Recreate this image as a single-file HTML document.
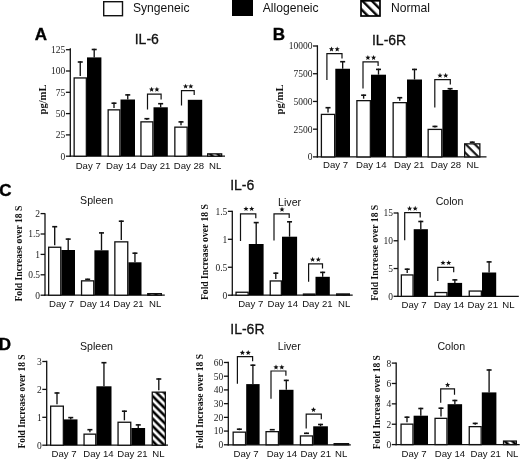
<!DOCTYPE html><html><head><meta charset="utf-8"><style>html,body{margin:0;padding:0;background:#fff;}svg{display:block;filter:grayscale(1) blur(0.35px);}</style></head><body>
<svg width="520" height="459" viewBox="0 0 520 459">
<defs><pattern id="hatch" patternUnits="userSpaceOnUse" width="5.3" height="5.3" patternTransform="rotate(-45)"><rect width="5.3" height="5.3" fill="#fff"/><rect x="1.4" y="0" width="2.6" height="5.3" fill="#000"/></pattern><pattern id="hatchL" patternUnits="userSpaceOnUse" width="6.72" height="6.72" patternTransform="rotate(-45)"><rect width="6.72" height="6.72" fill="#fff"/><rect x="0" y="0" width="1.45" height="6.72" fill="#000"/><rect x="5.83" y="0" width="0.89" height="6.72" fill="#000"/></pattern><pattern id="hatchB" patternUnits="userSpaceOnUse" width="6.4" height="6.4" patternTransform="rotate(-45)"><rect width="6.4" height="6.4" fill="#fff"/><rect x="2.35" y="0" width="2.0" height="6.4" fill="#000"/></pattern></defs>
<rect width="520" height="459" fill="#fff"/>
<rect x="103.7" y="1.7" width="18.8" height="14" fill="#fff" stroke="#111" stroke-width="1.4"/>
<text x="133" y="12.1" font-family='"Liberation Sans", sans-serif' font-size="12.1" font-weight="normal" text-anchor="start" fill="#111" >Syngeneic</text>
<rect x="232" y="0" width="21" height="16" fill="#000"/>
<text x="262.8" y="12.1" font-family='"Liberation Sans", sans-serif' font-size="12.1" font-weight="normal" text-anchor="start" fill="#111" >Allogeneic</text>
<rect x="361" y="0.8" width="19" height="15.2" fill="url(#hatchL)" stroke="#000" stroke-width="1.7"/>
<text x="391" y="12.1" font-family='"Liberation Sans", sans-serif' font-size="12.1" font-weight="normal" text-anchor="start" fill="#111" >Normal</text>
<text x="34.8" y="39.9" font-family='"Liberation Sans", sans-serif' font-size="17" font-weight="bold" text-anchor="start" fill="#000" stroke="#000" stroke-width="0.35">A</text>
<text x="272.8" y="39.8" font-family='"Liberation Sans", sans-serif' font-size="17" font-weight="bold" text-anchor="start" fill="#000" stroke="#000" stroke-width="0.35">B</text>
<text x="-0.8" y="196" font-family='"Liberation Sans", sans-serif' font-size="17" font-weight="bold" text-anchor="start" fill="#000" stroke="#000" stroke-width="0.35">C</text>
<text x="-1.3" y="350.3" font-family='"Liberation Sans", sans-serif' font-size="17" font-weight="bold" text-anchor="start" fill="#000" stroke="#000" stroke-width="0.35">D</text>
<text x="146.8" y="44.4" font-family='"Liberation Sans", sans-serif' font-size="14" font-weight="normal" text-anchor="middle" fill="#111" stroke="#111" stroke-width="0.3">IL-6</text>
<text x="389.1" y="44.9" font-family='"Liberation Sans", sans-serif' font-size="14" font-weight="normal" text-anchor="middle" fill="#111" stroke="#111" stroke-width="0.3">IL-6R</text>
<text x="242.2" y="190" font-family='"Liberation Sans", sans-serif' font-size="14" font-weight="normal" text-anchor="middle" fill="#111" stroke="#111" stroke-width="0.3">IL-6</text>
<text x="247.4" y="334.2" font-family='"Liberation Sans", sans-serif' font-size="14" font-weight="normal" text-anchor="middle" fill="#111" stroke="#111" stroke-width="0.3">IL-6R</text>
<text x="96.6" y="204.4" font-family='"Liberation Sans", sans-serif' font-size="10.6" font-weight="normal" text-anchor="middle" fill="#111" >Spleen</text>
<text x="289.6" y="205.7" font-family='"Liberation Sans", sans-serif' font-size="10.6" font-weight="normal" text-anchor="middle" fill="#111" >Liver</text>
<text x="449.5" y="205.2" font-family='"Liberation Sans", sans-serif' font-size="10.6" font-weight="normal" text-anchor="middle" fill="#111" >Colon</text>
<text x="96.5" y="350.4" font-family='"Liberation Sans", sans-serif' font-size="10.6" font-weight="normal" text-anchor="middle" fill="#111" >Spleen</text>
<text x="289.3" y="350.2" font-family='"Liberation Sans", sans-serif' font-size="10.6" font-weight="normal" text-anchor="middle" fill="#111" >Liver</text>
<text x="451.3" y="350.2" font-family='"Liberation Sans", sans-serif' font-size="10.6" font-weight="normal" text-anchor="middle" fill="#111" >Colon</text>
<line x1="70.3" y1="48.3" x2="70.3" y2="156.85" stroke="#111" stroke-width="1.3"/>
<line x1="69.65" y1="156.2" x2="225" y2="156.2" stroke="#111" stroke-width="1.3"/>
<line x1="65.9" y1="156.2" x2="70.3" y2="156.2" stroke="#111" stroke-width="1.3"/>
<text x="65.3" y="159.6" font-family='"Liberation Serif", serif' font-size="9.5" text-anchor="end" fill="#222">0</text>
<line x1="65.9" y1="134.9" x2="70.3" y2="134.9" stroke="#111" stroke-width="1.3"/>
<text x="65.3" y="138.3" font-family='"Liberation Serif", serif' font-size="9.5" text-anchor="end" fill="#222">25</text>
<line x1="65.9" y1="113.6" x2="70.3" y2="113.6" stroke="#111" stroke-width="1.3"/>
<text x="65.3" y="117" font-family='"Liberation Serif", serif' font-size="9.5" text-anchor="end" fill="#222">50</text>
<line x1="65.9" y1="92.3" x2="70.3" y2="92.3" stroke="#111" stroke-width="1.3"/>
<text x="65.3" y="95.7" font-family='"Liberation Serif", serif' font-size="9.5" text-anchor="end" fill="#222">75</text>
<line x1="65.9" y1="71" x2="70.3" y2="71" stroke="#111" stroke-width="1.3"/>
<text x="65.3" y="74.4" font-family='"Liberation Serif", serif' font-size="9.5" text-anchor="end" fill="#222">100</text>
<line x1="65.9" y1="49.7" x2="70.3" y2="49.7" stroke="#111" stroke-width="1.3"/>
<text x="65.3" y="53.1" font-family='"Liberation Serif", serif' font-size="9.5" text-anchor="end" fill="#222">125</text>
<rect x="74.15" y="77.95" width="12.2" height="78.25" fill="#fff" stroke="#111" stroke-width="1.3"/>
<line x1="80.25" y1="61.3" x2="80.25" y2="76" stroke="#111" stroke-width="1.35"/>
<line x1="77.75" y1="62" x2="82.75" y2="62" stroke="#111" stroke-width="1.6"/>
<rect x="87" y="57.4" width="14.4" height="98.8" fill="#000"/>
<line x1="94.2" y1="48.8" x2="94.2" y2="57.4" stroke="#111" stroke-width="1.35"/>
<line x1="91.7" y1="49.5" x2="96.7" y2="49.5" stroke="#111" stroke-width="1.6"/>
<rect x="108.15" y="109.85" width="11.7" height="46.35" fill="#fff" stroke="#111" stroke-width="1.3"/>
<line x1="114" y1="102.5" x2="114" y2="107.9" stroke="#111" stroke-width="1.35"/>
<line x1="111.5" y1="103.2" x2="116.5" y2="103.2" stroke="#111" stroke-width="1.6"/>
<rect x="120.5" y="99.5" width="14.5" height="56.7" fill="#000"/>
<line x1="127.75" y1="94.2" x2="127.75" y2="99.5" stroke="#111" stroke-width="1.35"/>
<line x1="125.25" y1="94.9" x2="130.25" y2="94.9" stroke="#111" stroke-width="1.6"/>
<rect x="140.95" y="121.85" width="11.9" height="34.35" fill="#fff" stroke="#111" stroke-width="1.3"/>
<line x1="146.9" y1="118" x2="146.9" y2="119.9" stroke="#111" stroke-width="1.35"/>
<line x1="144.4" y1="118.7" x2="149.4" y2="118.7" stroke="#111" stroke-width="1.6"/>
<rect x="153.5" y="107.3" width="14.3" height="48.9" fill="#000"/>
<line x1="160.65" y1="103" x2="160.65" y2="107.3" stroke="#111" stroke-width="1.35"/>
<line x1="158.15" y1="103.7" x2="163.15" y2="103.7" stroke="#111" stroke-width="1.6"/>
<rect x="174.85" y="127.15" width="12.3" height="29.05" fill="#fff" stroke="#111" stroke-width="1.3"/>
<line x1="181" y1="121.2" x2="181" y2="125.2" stroke="#111" stroke-width="1.35"/>
<line x1="178.5" y1="121.9" x2="183.5" y2="121.9" stroke="#111" stroke-width="1.6"/>
<rect x="187.8" y="99.8" width="14.4" height="56.4" fill="#000"/>
<rect x="207.65" y="153.85" width="14" height="2.35" fill="url(#hatch)" stroke="#111" stroke-width="1.3"/>
<polyline points="147.5,109.4 147.5,94.1 161.1,94.1 161.1,99.6" fill="none" stroke="#111" stroke-width="1.2"/>
<polygon points="151.6,86.75 152.31,88.53 154.22,88.65 152.74,89.87 153.22,91.72 151.6,90.7 149.98,91.72 150.46,89.87 148.98,88.65 150.89,88.53" fill="#111"/>
<polygon points="156.9,86.75 157.61,88.53 159.52,88.65 158.04,89.87 158.52,91.72 156.9,90.7 155.28,91.72 155.76,89.87 154.28,88.65 156.19,88.53" fill="#111"/>
<polyline points="181.5,105.6 181.5,90.6 194.2,90.6 194.2,95" fill="none" stroke="#111" stroke-width="1.2"/>
<polygon points="185.6,83.65 186.31,85.43 188.22,85.55 186.74,86.77 187.22,88.62 185.6,87.6 183.98,88.62 184.46,86.77 182.98,85.55 184.89,85.43" fill="#111"/>
<polygon points="190.8,83.65 191.51,85.43 193.42,85.55 191.94,86.77 192.42,88.62 190.8,87.6 189.18,88.62 189.66,86.77 188.18,85.55 190.09,85.43" fill="#111"/>
<text x="88.2" y="168.6" font-family='"Liberation Sans", sans-serif' font-size="9.6" font-weight="normal" text-anchor="middle" fill="#111" >Day 7</text>
<text x="121.2" y="168.6" font-family='"Liberation Sans", sans-serif' font-size="9.6" font-weight="normal" text-anchor="middle" fill="#111" >Day 14</text>
<text x="155.2" y="168.6" font-family='"Liberation Sans", sans-serif' font-size="9.6" font-weight="normal" text-anchor="middle" fill="#111" >Day 21</text>
<text x="189" y="168.6" font-family='"Liberation Sans", sans-serif' font-size="9.6" font-weight="normal" text-anchor="middle" fill="#111" >Day 28</text>
<text x="215.1" y="168.6" font-family='"Liberation Sans", sans-serif' font-size="9.6" font-weight="normal" text-anchor="middle" fill="#111" >NL</text>
<text x="0" y="0" font-family='"Liberation Serif", serif' font-size="10.6" font-weight="bold" text-anchor="middle" fill="#111" transform="translate(46,99.5) rotate(-90)">pg/mL</text>
<line x1="317.4" y1="45.3" x2="317.4" y2="157.55" stroke="#111" stroke-width="1.3"/>
<line x1="316.75" y1="156.9" x2="486.5" y2="156.9" stroke="#111" stroke-width="1.3"/>
<line x1="313" y1="156.9" x2="317.4" y2="156.9" stroke="#111" stroke-width="1.3"/>
<text x="312.4" y="160.3" font-family='"Liberation Serif", serif' font-size="9.5" text-anchor="end" fill="#222">0</text>
<line x1="313" y1="129.18" x2="317.4" y2="129.18" stroke="#111" stroke-width="1.3"/>
<text x="312.4" y="132.58" font-family='"Liberation Serif", serif' font-size="9.5" text-anchor="end" fill="#222">2500</text>
<line x1="313" y1="101.45" x2="317.4" y2="101.45" stroke="#111" stroke-width="1.3"/>
<text x="312.4" y="104.85" font-family='"Liberation Serif", serif' font-size="9.5" text-anchor="end" fill="#222">5000</text>
<line x1="313" y1="73.73" x2="317.4" y2="73.73" stroke="#111" stroke-width="1.3"/>
<text x="312.4" y="77.13" font-family='"Liberation Serif", serif' font-size="9.5" text-anchor="end" fill="#222">7500</text>
<line x1="313" y1="46" x2="317.4" y2="46" stroke="#111" stroke-width="1.3"/>
<text x="312.4" y="49.4" font-family='"Liberation Serif", serif' font-size="9.5" text-anchor="end" fill="#222">10000</text>
<rect x="321.4" y="114.4" width="13.25" height="42.5" fill="#fff" stroke="#111" stroke-width="1.3"/>
<line x1="328.02" y1="107" x2="328.02" y2="112.45" stroke="#111" stroke-width="1.35"/>
<line x1="325.52" y1="107.7" x2="330.52" y2="107.7" stroke="#111" stroke-width="1.6"/>
<rect x="335.3" y="68.75" width="14.7" height="88.15" fill="#000"/>
<line x1="342.65" y1="61" x2="342.65" y2="68.75" stroke="#111" stroke-width="1.35"/>
<line x1="340.15" y1="61.7" x2="345.15" y2="61.7" stroke="#111" stroke-width="1.6"/>
<rect x="356.9" y="100.65" width="13.45" height="56.25" fill="#fff" stroke="#111" stroke-width="1.3"/>
<line x1="363.62" y1="94.5" x2="363.62" y2="98.7" stroke="#111" stroke-width="1.35"/>
<line x1="361.12" y1="95.2" x2="366.12" y2="95.2" stroke="#111" stroke-width="1.6"/>
<rect x="371" y="74.7" width="15" height="82.2" fill="#000"/>
<line x1="378.5" y1="68.7" x2="378.5" y2="74.7" stroke="#111" stroke-width="1.35"/>
<line x1="376" y1="69.4" x2="381" y2="69.4" stroke="#111" stroke-width="1.6"/>
<rect x="393.15" y="102.65" width="13.2" height="54.25" fill="#fff" stroke="#111" stroke-width="1.3"/>
<line x1="399.75" y1="97" x2="399.75" y2="100.7" stroke="#111" stroke-width="1.35"/>
<line x1="397.25" y1="97.7" x2="402.25" y2="97.7" stroke="#111" stroke-width="1.6"/>
<rect x="407" y="79.5" width="15" height="77.4" fill="#000"/>
<line x1="414.5" y1="68.75" x2="414.5" y2="79.5" stroke="#111" stroke-width="1.35"/>
<line x1="412" y1="69.45" x2="417" y2="69.45" stroke="#111" stroke-width="1.6"/>
<rect x="428.15" y="129.4" width="13.6" height="27.5" fill="#fff" stroke="#111" stroke-width="1.3"/>
<line x1="434.95" y1="125.75" x2="434.95" y2="127.45" stroke="#111" stroke-width="1.35"/>
<line x1="432.45" y1="126.45" x2="437.45" y2="126.45" stroke="#111" stroke-width="1.6"/>
<rect x="442.4" y="90" width="15.4" height="66.9" fill="#000"/>
<line x1="450.1" y1="88" x2="450.1" y2="90" stroke="#111" stroke-width="1.35"/>
<line x1="447.6" y1="88.7" x2="452.6" y2="88.7" stroke="#111" stroke-width="1.6"/>
<rect x="464.65" y="143.85" width="15.2" height="13.05" fill="url(#hatchB)" stroke="#111" stroke-width="1.3"/>
<line x1="472.25" y1="141.5" x2="472.25" y2="141.9" stroke="#111" stroke-width="1.35"/>
<line x1="469.75" y1="142.2" x2="474.75" y2="142.2" stroke="#111" stroke-width="1.6"/>
<polyline points="326.9,80 326.9,53.7 342,53.7 342,58.5" fill="none" stroke="#111" stroke-width="1.2"/>
<polygon points="331.5,46.45 332.21,48.23 334.12,48.35 332.64,49.57 333.12,51.42 331.5,50.4 329.88,51.42 330.36,49.57 328.88,48.35 330.79,48.23" fill="#111"/>
<polygon points="337.2,46.45 337.91,48.23 339.82,48.35 338.34,49.57 338.82,51.42 337.2,50.4 335.58,51.42 336.06,49.57 334.58,48.35 336.49,48.23" fill="#111"/>
<polyline points="363,88.5 363,61.8 378.1,61.8 378.1,66.1" fill="none" stroke="#111" stroke-width="1.2"/>
<polygon points="367.9,54.95 368.61,56.73 370.52,56.85 369.04,58.07 369.52,59.92 367.9,58.9 366.28,59.92 366.76,58.07 365.28,56.85 367.19,56.73" fill="#111"/>
<polygon points="373.6,54.95 374.31,56.73 376.22,56.85 374.74,58.07 375.22,59.92 373.6,58.9 371.98,59.92 372.46,58.07 370.98,56.85 372.89,56.73" fill="#111"/>
<polyline points="434.8,107.5 434.8,79.7 450.3,79.7 450.3,84.4" fill="none" stroke="#111" stroke-width="1.2"/>
<polygon points="440,72.85 440.71,74.63 442.62,74.75 441.14,75.97 441.62,77.82 440,76.8 438.38,77.82 438.86,75.97 437.38,74.75 439.29,74.63" fill="#111"/>
<polygon points="445.7,72.85 446.41,74.63 448.32,74.75 446.84,75.97 447.32,77.82 445.7,76.8 444.08,77.82 444.56,75.97 443.08,74.75 444.99,74.63" fill="#111"/>
<text x="335.5" y="168.3" font-family='"Liberation Sans", sans-serif' font-size="9.6" font-weight="normal" text-anchor="middle" fill="#111" >Day 7</text>
<text x="371.3" y="168.3" font-family='"Liberation Sans", sans-serif' font-size="9.6" font-weight="normal" text-anchor="middle" fill="#111" >Day 14</text>
<text x="409.2" y="168.3" font-family='"Liberation Sans", sans-serif' font-size="9.6" font-weight="normal" text-anchor="middle" fill="#111" >Day 21</text>
<text x="446" y="168.3" font-family='"Liberation Sans", sans-serif' font-size="9.6" font-weight="normal" text-anchor="middle" fill="#111" >Day 28</text>
<text x="472.7" y="168.3" font-family='"Liberation Sans", sans-serif' font-size="9.6" font-weight="normal" text-anchor="middle" fill="#111" >NL</text>
<text x="0" y="0" font-family='"Liberation Serif", serif' font-size="10.6" font-weight="bold" text-anchor="middle" fill="#111" transform="translate(282.5,99.5) rotate(-90)">pg/mL</text>
<line x1="45" y1="213.3" x2="45" y2="295.85" stroke="#111" stroke-width="1.3"/>
<line x1="44.35" y1="295.2" x2="164.8" y2="295.2" stroke="#111" stroke-width="1.3"/>
<line x1="40.6" y1="295.2" x2="45" y2="295.2" stroke="#111" stroke-width="1.3"/>
<text x="40" y="298.6" font-family='"Liberation Serif", serif' font-size="9.5" text-anchor="end" fill="#222">0</text>
<line x1="40.6" y1="274.8" x2="45" y2="274.8" stroke="#111" stroke-width="1.3"/>
<text x="40" y="278.2" font-family='"Liberation Serif", serif' font-size="9.5" text-anchor="end" fill="#222">0.5</text>
<line x1="40.6" y1="254.4" x2="45" y2="254.4" stroke="#111" stroke-width="1.3"/>
<text x="40" y="257.8" font-family='"Liberation Serif", serif' font-size="9.5" text-anchor="end" fill="#222">1</text>
<line x1="40.6" y1="234" x2="45" y2="234" stroke="#111" stroke-width="1.3"/>
<text x="40" y="237.4" font-family='"Liberation Serif", serif' font-size="9.5" text-anchor="end" fill="#222">1.5</text>
<line x1="40.6" y1="213.6" x2="45" y2="213.6" stroke="#111" stroke-width="1.3"/>
<text x="40" y="217" font-family='"Liberation Serif", serif' font-size="9.5" text-anchor="end" fill="#222">2</text>
<rect x="48.65" y="247.25" width="12.1" height="47.95" fill="#fff" stroke="#111" stroke-width="1.3"/>
<line x1="54.7" y1="226" x2="54.7" y2="245.3" stroke="#111" stroke-width="1.35"/>
<line x1="52.2" y1="226.7" x2="57.2" y2="226.7" stroke="#111" stroke-width="1.6"/>
<rect x="61.4" y="250" width="13.6" height="45.2" fill="#000"/>
<line x1="68.2" y1="238.4" x2="68.2" y2="250" stroke="#111" stroke-width="1.35"/>
<line x1="65.7" y1="239.1" x2="70.7" y2="239.1" stroke="#111" stroke-width="1.6"/>
<rect x="81.55" y="280.85" width="12.2" height="14.35" fill="#fff" stroke="#111" stroke-width="1.3"/>
<line x1="87.65" y1="278.6" x2="87.65" y2="278.9" stroke="#111" stroke-width="1.35"/>
<line x1="85.15" y1="279.3" x2="90.15" y2="279.3" stroke="#111" stroke-width="1.6"/>
<rect x="94.4" y="250.3" width="14.2" height="44.9" fill="#000"/>
<line x1="101.5" y1="232.2" x2="101.5" y2="250.3" stroke="#111" stroke-width="1.35"/>
<line x1="99" y1="232.9" x2="104" y2="232.9" stroke="#111" stroke-width="1.6"/>
<rect x="114.85" y="241.85" width="12.9" height="53.35" fill="#fff" stroke="#111" stroke-width="1.3"/>
<line x1="121.3" y1="220.5" x2="121.3" y2="239.9" stroke="#111" stroke-width="1.35"/>
<line x1="118.8" y1="221.2" x2="123.8" y2="221.2" stroke="#111" stroke-width="1.6"/>
<rect x="128.4" y="262.3" width="13.1" height="32.9" fill="#000"/>
<line x1="134.95" y1="252.5" x2="134.95" y2="262.3" stroke="#111" stroke-width="1.35"/>
<line x1="132.45" y1="253.2" x2="137.45" y2="253.2" stroke="#111" stroke-width="1.6"/>
<rect x="147.75" y="293.65" width="13.6" height="1.55" fill="url(#hatch)" stroke="#111" stroke-width="1.3"/>
<text x="61.6" y="307.3" font-family='"Liberation Sans", sans-serif' font-size="9.6" font-weight="normal" text-anchor="middle" fill="#111" >Day 7</text>
<text x="95" y="307.3" font-family='"Liberation Sans", sans-serif' font-size="9.6" font-weight="normal" text-anchor="middle" fill="#111" >Day 14</text>
<text x="128.5" y="307.3" font-family='"Liberation Sans", sans-serif' font-size="9.6" font-weight="normal" text-anchor="middle" fill="#111" >Day 21</text>
<text x="155.2" y="307.3" font-family='"Liberation Sans", sans-serif' font-size="9.6" font-weight="normal" text-anchor="middle" fill="#111" >NL</text>
<text x="0" y="0" font-family='"Liberation Serif", serif' font-size="9.65" font-weight="bold" text-anchor="middle" fill="#111" transform="translate(22.4,253.6) rotate(-90)">Fold Increase over 18 S</text>
<line x1="232.3" y1="210.8" x2="232.3" y2="295.85" stroke="#111" stroke-width="1.3"/>
<line x1="231.65" y1="295.2" x2="352.7" y2="295.2" stroke="#111" stroke-width="1.3"/>
<line x1="227.9" y1="295.2" x2="232.3" y2="295.2" stroke="#111" stroke-width="1.3"/>
<text x="227.3" y="298.6" font-family='"Liberation Serif", serif' font-size="9.5" text-anchor="end" fill="#222">0</text>
<line x1="227.9" y1="267.25" x2="232.3" y2="267.25" stroke="#111" stroke-width="1.3"/>
<text x="227.3" y="270.65" font-family='"Liberation Serif", serif' font-size="9.5" text-anchor="end" fill="#222">0.5</text>
<line x1="227.9" y1="239.3" x2="232.3" y2="239.3" stroke="#111" stroke-width="1.3"/>
<text x="227.3" y="242.7" font-family='"Liberation Serif", serif' font-size="9.5" text-anchor="end" fill="#222">1</text>
<line x1="227.9" y1="211.35" x2="232.3" y2="211.35" stroke="#111" stroke-width="1.3"/>
<text x="227.3" y="214.75" font-family='"Liberation Serif", serif' font-size="9.5" text-anchor="end" fill="#222">1.5</text>
<rect x="236.05" y="292.25" width="12.1" height="2.95" fill="#fff" stroke="#111" stroke-width="1.3"/>
<rect x="248.8" y="244" width="14.8" height="51.2" fill="#000"/>
<line x1="256.2" y1="221.9" x2="256.2" y2="244" stroke="#111" stroke-width="1.35"/>
<line x1="253.7" y1="222.6" x2="258.7" y2="222.6" stroke="#111" stroke-width="1.6"/>
<rect x="270.25" y="280.95" width="11.1" height="14.25" fill="#fff" stroke="#111" stroke-width="1.3"/>
<line x1="275.8" y1="272.5" x2="275.8" y2="279" stroke="#111" stroke-width="1.35"/>
<line x1="273.3" y1="273.2" x2="278.3" y2="273.2" stroke="#111" stroke-width="1.6"/>
<rect x="282" y="236.7" width="15.1" height="58.5" fill="#000"/>
<line x1="289.55" y1="221.1" x2="289.55" y2="236.7" stroke="#111" stroke-width="1.35"/>
<line x1="287.05" y1="221.8" x2="292.05" y2="221.8" stroke="#111" stroke-width="1.6"/>
<rect x="303.45" y="294.05" width="11.4" height="1.15" fill="#fff" stroke="#111" stroke-width="1.3"/>
<rect x="315.5" y="276.8" width="14.3" height="18.4" fill="#000"/>
<line x1="322.65" y1="271.7" x2="322.65" y2="276.8" stroke="#111" stroke-width="1.35"/>
<line x1="320.15" y1="272.4" x2="325.15" y2="272.4" stroke="#111" stroke-width="1.6"/>
<rect x="336.65" y="293.95" width="12.7" height="1.25" fill="url(#hatch)" stroke="#111" stroke-width="1.3"/>
<polyline points="240.5,241 240.5,213.8 255.8,213.8 255.8,218.2" fill="none" stroke="#111" stroke-width="1.2"/>
<polygon points="246,206.15 246.71,207.93 248.62,208.05 247.14,209.27 247.62,211.12 246,210.1 244.38,211.12 244.86,209.27 243.38,208.05 245.29,207.93" fill="#111"/>
<polygon points="251.7,206.15 252.41,207.93 254.32,208.05 252.84,209.27 253.32,211.12 251.7,210.1 250.08,211.12 250.56,209.27 249.08,208.05 250.99,207.93" fill="#111"/>
<polyline points="274,240.6 274,213.8 289.2,213.8 289.2,217.9" fill="none" stroke="#111" stroke-width="1.2"/>
<polygon points="282,206.75 282.71,208.53 284.62,208.65 283.14,209.87 283.62,211.72 282,210.7 280.38,211.72 280.86,209.87 279.38,208.65 281.29,208.53" fill="#111"/>
<polyline points="308.6,281.7 308.6,263.8 322.5,263.8 322.5,268.5" fill="none" stroke="#111" stroke-width="1.2"/>
<polygon points="312.6,256.85 313.31,258.63 315.22,258.75 313.74,259.97 314.22,261.82 312.6,260.8 310.98,261.82 311.46,259.97 309.98,258.75 311.89,258.63" fill="#111"/>
<polygon points="318.3,256.85 319.01,258.63 320.92,258.75 319.44,259.97 319.92,261.82 318.3,260.8 316.68,261.82 317.16,259.97 315.68,258.75 317.59,258.63" fill="#111"/>
<text x="250.7" y="307.3" font-family='"Liberation Sans", sans-serif' font-size="9.6" font-weight="normal" text-anchor="middle" fill="#111" >Day 7</text>
<text x="282.8" y="307.3" font-family='"Liberation Sans", sans-serif' font-size="9.6" font-weight="normal" text-anchor="middle" fill="#111" >Day 14</text>
<text x="317.4" y="307.3" font-family='"Liberation Sans", sans-serif' font-size="9.6" font-weight="normal" text-anchor="middle" fill="#111" >Day 21</text>
<text x="344.2" y="307.3" font-family='"Liberation Sans", sans-serif' font-size="9.6" font-weight="normal" text-anchor="middle" fill="#111" >NL</text>
<text x="0" y="0" font-family='"Liberation Serif", serif' font-size="9.65" font-weight="bold" text-anchor="middle" fill="#111" transform="translate(207.7,252.1) rotate(-90)">Fold Increase over 18 S</text>
<line x1="398" y1="212.5" x2="398" y2="296.95" stroke="#111" stroke-width="1.3"/>
<line x1="397.35" y1="296.3" x2="518.8" y2="296.3" stroke="#111" stroke-width="1.3"/>
<line x1="393.6" y1="296.3" x2="398" y2="296.3" stroke="#111" stroke-width="1.3"/>
<text x="393" y="299.7" font-family='"Liberation Serif", serif' font-size="9.5" text-anchor="end" fill="#222">0</text>
<line x1="393.6" y1="268.53" x2="398" y2="268.53" stroke="#111" stroke-width="1.3"/>
<text x="393" y="271.93" font-family='"Liberation Serif", serif' font-size="9.5" text-anchor="end" fill="#222">5</text>
<line x1="393.6" y1="240.77" x2="398" y2="240.77" stroke="#111" stroke-width="1.3"/>
<text x="393" y="244.17" font-family='"Liberation Serif", serif' font-size="9.5" text-anchor="end" fill="#222">10</text>
<line x1="393.6" y1="213" x2="398" y2="213" stroke="#111" stroke-width="1.3"/>
<text x="393" y="216.4" font-family='"Liberation Serif", serif' font-size="9.5" text-anchor="end" fill="#222">15</text>
<rect x="401.35" y="274.95" width="11.7" height="21.35" fill="#fff" stroke="#111" stroke-width="1.3"/>
<line x1="407.2" y1="268.5" x2="407.2" y2="273" stroke="#111" stroke-width="1.35"/>
<line x1="404.7" y1="269.2" x2="409.7" y2="269.2" stroke="#111" stroke-width="1.6"/>
<rect x="413.7" y="229.2" width="14.2" height="67.1" fill="#000"/>
<line x1="420.8" y1="220.8" x2="420.8" y2="229.2" stroke="#111" stroke-width="1.35"/>
<line x1="418.3" y1="221.5" x2="423.3" y2="221.5" stroke="#111" stroke-width="1.6"/>
<rect x="435.05" y="292.55" width="11.9" height="3.75" fill="#fff" stroke="#111" stroke-width="1.3"/>
<rect x="447.6" y="282.9" width="14.5" height="13.4" fill="#000"/>
<line x1="454.85" y1="279.2" x2="454.85" y2="282.9" stroke="#111" stroke-width="1.35"/>
<line x1="452.35" y1="279.9" x2="457.35" y2="279.9" stroke="#111" stroke-width="1.6"/>
<rect x="469.25" y="291.05" width="12.1" height="5.25" fill="#fff" stroke="#111" stroke-width="1.3"/>
<rect x="482" y="272.5" width="14.2" height="23.8" fill="#000"/>
<line x1="489.1" y1="261.2" x2="489.1" y2="272.5" stroke="#111" stroke-width="1.35"/>
<line x1="486.6" y1="261.9" x2="491.6" y2="261.9" stroke="#111" stroke-width="1.6"/>
<polyline points="404.7,240.2 404.7,212.7 420.2,212.7 420.2,217.6" fill="none" stroke="#111" stroke-width="1.2"/>
<polygon points="409.6,205.85 410.31,207.63 412.22,207.75 410.74,208.97 411.22,210.82 409.6,209.8 407.98,210.82 408.46,208.97 406.98,207.75 408.89,207.63" fill="#111"/>
<polygon points="415.2,205.85 415.91,207.63 417.82,207.75 416.34,208.97 416.82,210.82 415.2,209.8 413.58,210.82 414.06,208.97 412.58,207.75 414.49,207.63" fill="#111"/>
<polyline points="437.8,281 437.8,267.4 453.7,267.4 453.7,272.3" fill="none" stroke="#111" stroke-width="1.2"/>
<polygon points="443,260.15 443.71,261.93 445.62,262.05 444.14,263.27 444.62,265.12 443,264.1 441.38,265.12 441.86,263.27 440.38,262.05 442.29,261.93" fill="#111"/>
<polygon points="448.7,260.15 449.41,261.93 451.32,262.05 449.84,263.27 450.32,265.12 448.7,264.1 447.08,265.12 447.56,263.27 446.08,262.05 447.99,261.93" fill="#111"/>
<text x="414" y="307.8" font-family='"Liberation Sans", sans-serif' font-size="9.6" font-weight="normal" text-anchor="middle" fill="#111" >Day 7</text>
<text x="449" y="307.8" font-family='"Liberation Sans", sans-serif' font-size="9.6" font-weight="normal" text-anchor="middle" fill="#111" >Day 14</text>
<text x="482.8" y="307.8" font-family='"Liberation Sans", sans-serif' font-size="9.6" font-weight="normal" text-anchor="middle" fill="#111" >Day 21</text>
<text x="508.4" y="307.8" font-family='"Liberation Sans", sans-serif' font-size="9.6" font-weight="normal" text-anchor="middle" fill="#111" >NL</text>
<text x="0" y="0" font-family='"Liberation Serif", serif' font-size="9.65" font-weight="bold" text-anchor="middle" fill="#111" transform="translate(377.5,252.75) rotate(-90)">Fold Increase over 18 S</text>
<line x1="46.7" y1="360.8" x2="46.7" y2="445.85" stroke="#111" stroke-width="1.3"/>
<line x1="46.05" y1="445.2" x2="168" y2="445.2" stroke="#111" stroke-width="1.3"/>
<line x1="42.3" y1="445.2" x2="46.7" y2="445.2" stroke="#111" stroke-width="1.3"/>
<text x="41.7" y="448.6" font-family='"Liberation Serif", serif' font-size="9.5" text-anchor="end" fill="#222">0</text>
<line x1="42.3" y1="417.3" x2="46.7" y2="417.3" stroke="#111" stroke-width="1.3"/>
<text x="41.7" y="420.7" font-family='"Liberation Serif", serif' font-size="9.5" text-anchor="end" fill="#222">1</text>
<line x1="42.3" y1="389.4" x2="46.7" y2="389.4" stroke="#111" stroke-width="1.3"/>
<text x="41.7" y="392.8" font-family='"Liberation Serif", serif' font-size="9.5" text-anchor="end" fill="#222">2</text>
<line x1="42.3" y1="361.5" x2="46.7" y2="361.5" stroke="#111" stroke-width="1.3"/>
<text x="41.7" y="364.9" font-family='"Liberation Serif", serif' font-size="9.5" text-anchor="end" fill="#222">3</text>
<rect x="50.65" y="406.15" width="12.7" height="39.05" fill="#fff" stroke="#111" stroke-width="1.3"/>
<line x1="57" y1="392.3" x2="57" y2="404.2" stroke="#111" stroke-width="1.35"/>
<line x1="54.5" y1="393" x2="59.5" y2="393" stroke="#111" stroke-width="1.6"/>
<rect x="64" y="419.4" width="13.5" height="25.8" fill="#000"/>
<line x1="70.75" y1="416.9" x2="70.75" y2="419.4" stroke="#111" stroke-width="1.35"/>
<line x1="68.25" y1="417.6" x2="73.25" y2="417.6" stroke="#111" stroke-width="1.6"/>
<rect x="84.05" y="434.15" width="11.7" height="11.05" fill="#fff" stroke="#111" stroke-width="1.3"/>
<line x1="89.9" y1="429" x2="89.9" y2="432.2" stroke="#111" stroke-width="1.35"/>
<line x1="87.4" y1="429.7" x2="92.4" y2="429.7" stroke="#111" stroke-width="1.6"/>
<rect x="96.4" y="386.3" width="15.1" height="58.9" fill="#000"/>
<line x1="103.95" y1="362" x2="103.95" y2="386.3" stroke="#111" stroke-width="1.35"/>
<line x1="101.45" y1="362.7" x2="106.45" y2="362.7" stroke="#111" stroke-width="1.6"/>
<rect x="118.05" y="422.25" width="12.7" height="22.95" fill="#fff" stroke="#111" stroke-width="1.3"/>
<line x1="124.4" y1="410.5" x2="124.4" y2="420.3" stroke="#111" stroke-width="1.35"/>
<line x1="121.9" y1="411.2" x2="126.9" y2="411.2" stroke="#111" stroke-width="1.6"/>
<rect x="131.4" y="428" width="13.7" height="17.2" fill="#000"/>
<line x1="138.25" y1="424.2" x2="138.25" y2="428" stroke="#111" stroke-width="1.35"/>
<line x1="135.75" y1="424.9" x2="140.75" y2="424.9" stroke="#111" stroke-width="1.6"/>
<rect x="152.25" y="392.15" width="13.1" height="53.05" fill="url(#hatch)" stroke="#111" stroke-width="1.3"/>
<line x1="158.8" y1="378.3" x2="158.8" y2="390.2" stroke="#111" stroke-width="1.35"/>
<line x1="156.3" y1="379" x2="161.3" y2="379" stroke="#111" stroke-width="1.6"/>
<text x="64" y="457" font-family='"Liberation Sans", sans-serif' font-size="9.6" font-weight="normal" text-anchor="middle" fill="#111" >Day 7</text>
<text x="98.5" y="457" font-family='"Liberation Sans", sans-serif' font-size="9.6" font-weight="normal" text-anchor="middle" fill="#111" >Day 14</text>
<text x="132.5" y="457" font-family='"Liberation Sans", sans-serif' font-size="9.6" font-weight="normal" text-anchor="middle" fill="#111" >Day 21</text>
<text x="158.5" y="457" font-family='"Liberation Sans", sans-serif' font-size="9.6" font-weight="normal" text-anchor="middle" fill="#111" >NL</text>
<text x="0" y="0" font-family='"Liberation Serif", serif' font-size="9.45" font-weight="bold" text-anchor="middle" fill="#111" transform="translate(25,401.5) rotate(-90)">Fold Increase over 18 S</text>
<line x1="228.3" y1="361.8" x2="228.3" y2="445.45" stroke="#111" stroke-width="1.3"/>
<line x1="227.65" y1="444.8" x2="350.8" y2="444.8" stroke="#111" stroke-width="1.3"/>
<line x1="223.9" y1="444.8" x2="228.3" y2="444.8" stroke="#111" stroke-width="1.3"/>
<text x="223.3" y="448.2" font-family='"Liberation Serif", serif' font-size="9.5" text-anchor="end" fill="#222">0</text>
<line x1="223.9" y1="431.08" x2="228.3" y2="431.08" stroke="#111" stroke-width="1.3"/>
<text x="223.3" y="434.48" font-family='"Liberation Serif", serif' font-size="9.5" text-anchor="end" fill="#222">10</text>
<line x1="223.9" y1="417.36" x2="228.3" y2="417.36" stroke="#111" stroke-width="1.3"/>
<text x="223.3" y="420.76" font-family='"Liberation Serif", serif' font-size="9.5" text-anchor="end" fill="#222">20</text>
<line x1="223.9" y1="403.64" x2="228.3" y2="403.64" stroke="#111" stroke-width="1.3"/>
<text x="223.3" y="407.04" font-family='"Liberation Serif", serif' font-size="9.5" text-anchor="end" fill="#222">30</text>
<line x1="223.9" y1="389.92" x2="228.3" y2="389.92" stroke="#111" stroke-width="1.3"/>
<text x="223.3" y="393.32" font-family='"Liberation Serif", serif' font-size="9.5" text-anchor="end" fill="#222">40</text>
<line x1="223.9" y1="376.2" x2="228.3" y2="376.2" stroke="#111" stroke-width="1.3"/>
<text x="223.3" y="379.6" font-family='"Liberation Serif", serif' font-size="9.5" text-anchor="end" fill="#222">50</text>
<line x1="223.9" y1="362.48" x2="228.3" y2="362.48" stroke="#111" stroke-width="1.3"/>
<text x="223.3" y="365.88" font-family='"Liberation Serif", serif' font-size="9.5" text-anchor="end" fill="#222">60</text>
<rect x="233.15" y="432.15" width="12.4" height="12.65" fill="#fff" stroke="#111" stroke-width="1.3"/>
<line x1="239.35" y1="428.5" x2="239.35" y2="430.2" stroke="#111" stroke-width="1.35"/>
<line x1="236.85" y1="429.2" x2="241.85" y2="429.2" stroke="#111" stroke-width="1.6"/>
<rect x="246.2" y="384.1" width="13.4" height="60.7" fill="#000"/>
<line x1="252.9" y1="364.5" x2="252.9" y2="384.1" stroke="#111" stroke-width="1.35"/>
<line x1="250.4" y1="365.2" x2="255.4" y2="365.2" stroke="#111" stroke-width="1.6"/>
<rect x="266.05" y="431.65" width="12.4" height="13.15" fill="#fff" stroke="#111" stroke-width="1.3"/>
<line x1="272.25" y1="429" x2="272.25" y2="429.7" stroke="#111" stroke-width="1.35"/>
<line x1="269.75" y1="429.7" x2="274.75" y2="429.7" stroke="#111" stroke-width="1.6"/>
<rect x="279.1" y="389.8" width="14.4" height="55" fill="#000"/>
<line x1="286.3" y1="379.7" x2="286.3" y2="389.8" stroke="#111" stroke-width="1.35"/>
<line x1="283.8" y1="380.4" x2="288.8" y2="380.4" stroke="#111" stroke-width="1.6"/>
<rect x="300.45" y="435.95" width="12.1" height="8.85" fill="#fff" stroke="#111" stroke-width="1.3"/>
<line x1="306.5" y1="432.6" x2="306.5" y2="434" stroke="#111" stroke-width="1.35"/>
<line x1="304" y1="433.3" x2="309" y2="433.3" stroke="#111" stroke-width="1.6"/>
<rect x="313.2" y="426.3" width="14.7" height="18.5" fill="#000"/>
<line x1="320.55" y1="423.8" x2="320.55" y2="426.3" stroke="#111" stroke-width="1.35"/>
<line x1="318.05" y1="424.5" x2="323.05" y2="424.5" stroke="#111" stroke-width="1.6"/>
<rect x="334.15" y="443.65" width="14.4" height="1.15" fill="url(#hatch)" stroke="#111" stroke-width="1.3"/>
<polyline points="237.4,383.7 237.4,356.6 252.6,356.6 252.6,361.3" fill="none" stroke="#111" stroke-width="1.2"/>
<polygon points="242.4,350.05 243.11,351.83 245.02,351.95 243.54,353.17 244.02,355.02 242.4,354 240.78,355.02 241.26,353.17 239.78,351.95 241.69,351.83" fill="#111"/>
<polygon points="248.2,350.05 248.91,351.83 250.82,351.95 249.34,353.17 249.82,355.02 248.2,354 246.58,355.02 247.06,353.17 245.58,351.95 247.49,351.83" fill="#111"/>
<polyline points="271,398.8 271,371 285.9,371 285.9,375.7" fill="none" stroke="#111" stroke-width="1.2"/>
<polygon points="276,364.55 276.71,366.33 278.62,366.45 277.14,367.67 277.62,369.52 276,368.5 274.38,369.52 274.86,367.67 273.38,366.45 275.29,366.33" fill="#111"/>
<polygon points="281.8,364.55 282.51,366.33 284.42,366.45 282.94,367.67 283.42,369.52 281.8,368.5 280.18,369.52 280.66,367.67 279.18,366.45 281.09,366.33" fill="#111"/>
<polyline points="306.2,428.6 306.2,414.2 321.3,414.2 321.3,419.2" fill="none" stroke="#111" stroke-width="1.2"/>
<polygon points="313.5,407.05 314.21,408.83 316.12,408.95 314.64,410.17 315.12,412.02 313.5,411 311.88,412.02 312.36,410.17 310.88,408.95 312.79,408.83" fill="#111"/>
<text x="246" y="457" font-family='"Liberation Sans", sans-serif' font-size="9.6" font-weight="normal" text-anchor="middle" fill="#111" >Day 7</text>
<text x="281.9" y="457" font-family='"Liberation Sans", sans-serif' font-size="9.6" font-weight="normal" text-anchor="middle" fill="#111" >Day 14</text>
<text x="315.8" y="457" font-family='"Liberation Sans", sans-serif' font-size="9.6" font-weight="normal" text-anchor="middle" fill="#111" >Day 21</text>
<text x="341.2" y="457" font-family='"Liberation Sans", sans-serif' font-size="9.6" font-weight="normal" text-anchor="middle" fill="#111" >NL</text>
<text x="0" y="0" font-family='"Liberation Serif", serif' font-size="9.5" font-weight="bold" text-anchor="middle" fill="#111" transform="translate(203.3,401.3) rotate(-90)">Fold Increase over 18 S</text>
<line x1="396.2" y1="362.5" x2="396.2" y2="445.25" stroke="#111" stroke-width="1.3"/>
<line x1="395.55" y1="444.6" x2="519.7" y2="444.6" stroke="#111" stroke-width="1.3"/>
<line x1="391.8" y1="444.6" x2="396.2" y2="444.6" stroke="#111" stroke-width="1.3"/>
<text x="391.2" y="448" font-family='"Liberation Serif", serif' font-size="9.5" text-anchor="end" fill="#222">0</text>
<line x1="391.8" y1="424.23" x2="396.2" y2="424.23" stroke="#111" stroke-width="1.3"/>
<text x="391.2" y="427.62" font-family='"Liberation Serif", serif' font-size="9.5" text-anchor="end" fill="#222">2</text>
<line x1="391.8" y1="403.85" x2="396.2" y2="403.85" stroke="#111" stroke-width="1.3"/>
<text x="391.2" y="407.25" font-family='"Liberation Serif", serif' font-size="9.5" text-anchor="end" fill="#222">4</text>
<line x1="391.8" y1="383.48" x2="396.2" y2="383.48" stroke="#111" stroke-width="1.3"/>
<text x="391.2" y="386.88" font-family='"Liberation Serif", serif' font-size="9.5" text-anchor="end" fill="#222">6</text>
<line x1="391.8" y1="363.1" x2="396.2" y2="363.1" stroke="#111" stroke-width="1.3"/>
<text x="391.2" y="366.5" font-family='"Liberation Serif", serif' font-size="9.5" text-anchor="end" fill="#222">8</text>
<rect x="401.05" y="424.15" width="11.9" height="20.45" fill="#fff" stroke="#111" stroke-width="1.3"/>
<line x1="407" y1="416.5" x2="407" y2="422.2" stroke="#111" stroke-width="1.35"/>
<line x1="404.5" y1="417.2" x2="409.5" y2="417.2" stroke="#111" stroke-width="1.6"/>
<rect x="413.6" y="415.7" width="14.4" height="28.9" fill="#000"/>
<line x1="420.8" y1="407.8" x2="420.8" y2="415.7" stroke="#111" stroke-width="1.35"/>
<line x1="418.3" y1="408.5" x2="423.3" y2="408.5" stroke="#111" stroke-width="1.6"/>
<rect x="435.05" y="418.35" width="11.9" height="26.25" fill="#fff" stroke="#111" stroke-width="1.3"/>
<line x1="441" y1="407.5" x2="441" y2="416.4" stroke="#111" stroke-width="1.35"/>
<line x1="438.5" y1="408.2" x2="443.5" y2="408.2" stroke="#111" stroke-width="1.6"/>
<rect x="447.6" y="404.2" width="14.5" height="40.4" fill="#000"/>
<line x1="454.85" y1="399.8" x2="454.85" y2="404.2" stroke="#111" stroke-width="1.35"/>
<line x1="452.35" y1="400.5" x2="457.35" y2="400.5" stroke="#111" stroke-width="1.6"/>
<rect x="469.25" y="426.65" width="11.9" height="17.95" fill="#fff" stroke="#111" stroke-width="1.3"/>
<line x1="475.2" y1="422.7" x2="475.2" y2="424.7" stroke="#111" stroke-width="1.35"/>
<line x1="472.7" y1="423.4" x2="477.7" y2="423.4" stroke="#111" stroke-width="1.6"/>
<rect x="481.8" y="392.4" width="14.6" height="52.2" fill="#000"/>
<line x1="489.1" y1="369.3" x2="489.1" y2="392.4" stroke="#111" stroke-width="1.35"/>
<line x1="486.6" y1="370" x2="491.6" y2="370" stroke="#111" stroke-width="1.6"/>
<rect x="503.55" y="441.05" width="12.8" height="3.55" fill="url(#hatch)" stroke="#111" stroke-width="1.3"/>
<polyline points="440.7,402.8 440.7,388.9 454.5,388.9 454.5,394.8" fill="none" stroke="#111" stroke-width="1.2"/>
<polygon points="447.6,382.25 448.31,384.03 450.22,384.15 448.74,385.37 449.22,387.22 447.6,386.2 445.98,387.22 446.46,385.37 444.98,384.15 446.89,384.03" fill="#111"/>
<text x="414" y="457" font-family='"Liberation Sans", sans-serif' font-size="9.6" font-weight="normal" text-anchor="middle" fill="#111" >Day 7</text>
<text x="450" y="457" font-family='"Liberation Sans", sans-serif' font-size="9.6" font-weight="normal" text-anchor="middle" fill="#111" >Day 14</text>
<text x="485.7" y="457" font-family='"Liberation Sans", sans-serif' font-size="9.6" font-weight="normal" text-anchor="middle" fill="#111" >Day 21</text>
<text x="512.3" y="457" font-family='"Liberation Sans", sans-serif' font-size="9.6" font-weight="normal" text-anchor="middle" fill="#111" >NL</text>
<text x="0" y="0" font-family='"Liberation Serif", serif' font-size="9.45" font-weight="bold" text-anchor="middle" fill="#111" transform="translate(380,402.3) rotate(-90)">Fold Increase over 18 S</text>
</svg></body></html>
